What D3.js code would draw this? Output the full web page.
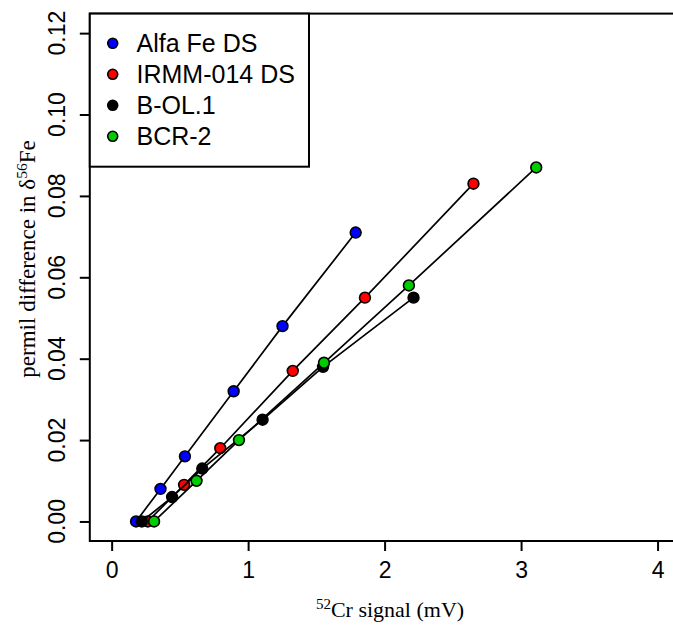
<!DOCTYPE html>
<html>
    <head>
        <title>Cr signal vs d56Fe</title>
        <style>
            body { margin: 0; background: #fff; }
        </style>
    </head>
    <body>
        <svg></svg>

        <script src="https://d3js.org/d3.v7.min.js"></script>
        <script>
            // series names and colours (legend order)
            var seriesNames = ["Alfa Fe DS", "IRMM-014 DS", "B-OL.1", "BCR-2"];
            var seriesColors = ["#0000FF", "#FF0000", "#000000", "#00CD00"];

            // 52Cr signal (mV) and permil difference
            var alfaX = [0.179, 0.358, 0.537, 0.894, 1.252, 1.788];
            var alfaY = [0.000, 0.008, 0.016, 0.032, 0.048, 0.071];
            var irmmX = [0.265, 0.531, 0.796, 1.327, 1.856, 2.651];
            var irmmY = [0.000, 0.009, 0.018, 0.037, 0.055, 0.083];
            var bolX  = [0.221, 0.443, 0.664, 1.106, 1.549, 2.212];
            var bolY  = [0.000, 0.006, 0.013, 0.025, 0.038, 0.055];
            var bcrX  = [0.311, 0.622, 0.933, 1.556, 2.178, 3.111];
            var bcrY  = [0.000, 0.010, 0.020, 0.039, 0.058, 0.087];

            // axis ticks
            var xTicks = [0, 1, 2, 3, 4];
            var yTicks = [0, 0.02, 0.04, 0.06, 0.08, 0.10, 0.12];

            var allX = [alfaX, irmmX, bolX, bcrX];
            var allY = [alfaY, irmmY, bolY, bcrY];

            var svg = d3.select("svg")
                .attr("width", 673)
                .attr("height", 625);

            // plot region (R style, 4% padding on each side of the limits)
            var pLeft = 89.8, pRight = 679.4, pTop = 13.6, pBottom = 541;

            var x = d3.scaleLinear().domain([-0.16, 4.16]).range([pLeft, pRight]);
            var y = d3.scaleLinear().domain([-0.0048, 0.1248]).range([pBottom, pTop]);

            var sans = "'Liberation Sans', Arial, sans-serif";
            var serif = "'Liberation Serif', 'Times New Roman', serif";

            // x axis
            var xAxis = svg.append("g")
                .attr("transform", "translate(0," + pBottom + ")")
                .call(d3.axisBottom(x).tickValues(xTicks).tickSize(10).tickPadding(10.5).tickFormat(d3.format("d")));
            xAxis.select(".domain").remove();
            xAxis.selectAll("line").attr("stroke", "#000").attr("stroke-width", 2);
            xAxis.selectAll("text").attr("font-family", sans).attr("font-size", 23).attr("fill", "#000");

            // y axis, labels drawn parallel to the axis
            var yAxis = svg.append("g")
                .attr("transform", "translate(" + pLeft + ",0)")
                .call(d3.axisLeft(y).tickValues(yTicks).tickSize(10).tickFormat(""));
            yAxis.select(".domain").remove();
            yAxis.selectAll("line").attr("stroke", "#000").attr("stroke-width", 2);

            svg.selectAll(".ylab")
                .data(yTicks).enter().append("text")
                .attr("class", "ylab")
                .attr("transform", function(d) { return "translate(65," + y(d) + ") rotate(-90)"; })
                .attr("text-anchor", "middle")
                .attr("font-family", sans)
                .attr("font-size", 23)
                .text(function(d) { return d3.format(".2f")(d); });

            // plot frame
            svg.append("rect")
                .attr("x", pLeft).attr("y", pTop)
                .attr("width", pRight - pLeft).attr("height", pBottom - pTop)
                .attr("fill", "none").attr("stroke", "#000").attr("stroke-width", 2);

            // axis titles
            var xt = svg.append("text")
                .attr("x", 390).attr("y", 616.5)
                .attr("text-anchor", "middle")
                .attr("font-family", serif).attr("font-size", 22);
            xt.append("tspan").attr("font-size", 15).attr("dy", -8).text("52");
            xt.append("tspan").attr("dy", 8).text("Cr signal (mV)");

            var yt = svg.append("text")
                .attr("transform", "translate(35,259) rotate(-90)")
                .attr("text-anchor", "middle")
                .attr("font-family", serif).attr("font-size", 23);
            yt.append("tspan").text("permil difference in \u03B4");
            yt.append("tspan").attr("font-size", 15.5).attr("dy", -8.5).text("56");
            yt.append("tspan").attr("dy", 8.5).text("Fe");

            // lines and points, one series after another
            var line = d3.line()
                .x(function(d) { return x(d[0]); })
                .y(function(d) { return y(d[1]); });

            for (var i = 0; i < seriesNames.length; i++) {
                var pts = d3.zip(allX[i], allY[i]);
                svg.append("path")
                    .datum(pts)
                    .attr("d", line)
                    .attr("fill", "none")
                    .attr("stroke", "#000")
                    .attr("stroke-width", 1.7);
                svg.append("g").selectAll("circle")
                    .data(pts).enter().append("circle")
                    .attr("cx", function(d) { return x(d[0]); })
                    .attr("cy", function(d) { return y(d[1]); })
                    .attr("r", 5.4)
                    .attr("fill", seriesColors[i])
                    .attr("stroke", "#000")
                    .attr("stroke-width", 1.6);
            }

            // legend in the top left corner
            var lg = svg.append("g");
            lg.append("rect")
                .attr("x", pLeft).attr("y", pTop)
                .attr("width", 309 - pLeft).attr("height", 166.7 - pTop)
                .attr("fill", "#fff").attr("stroke", "#000").attr("stroke-width", 2);
            var rows = lg.selectAll(".row")
                .data(seriesNames).enter().append("g")
                .attr("class", "row")
                .attr("transform", function(d, k) { return "translate(0," + (43.3 + k * 31) + ")"; });
            rows.append("circle")
                .attr("cx", 112.7).attr("cy", 0).attr("r", 5)
                .attr("fill", function(d, k) { return seriesColors[k]; })
                .attr("stroke", "#000").attr("stroke-width", 1.6);
            rows.append("text")
                .attr("x", 136.5).attr("dy", "0.36em")
                .attr("font-family", sans).attr("font-size", 25)
                .text(function(d) { return d; });
        </script>
    </body>
</html>
